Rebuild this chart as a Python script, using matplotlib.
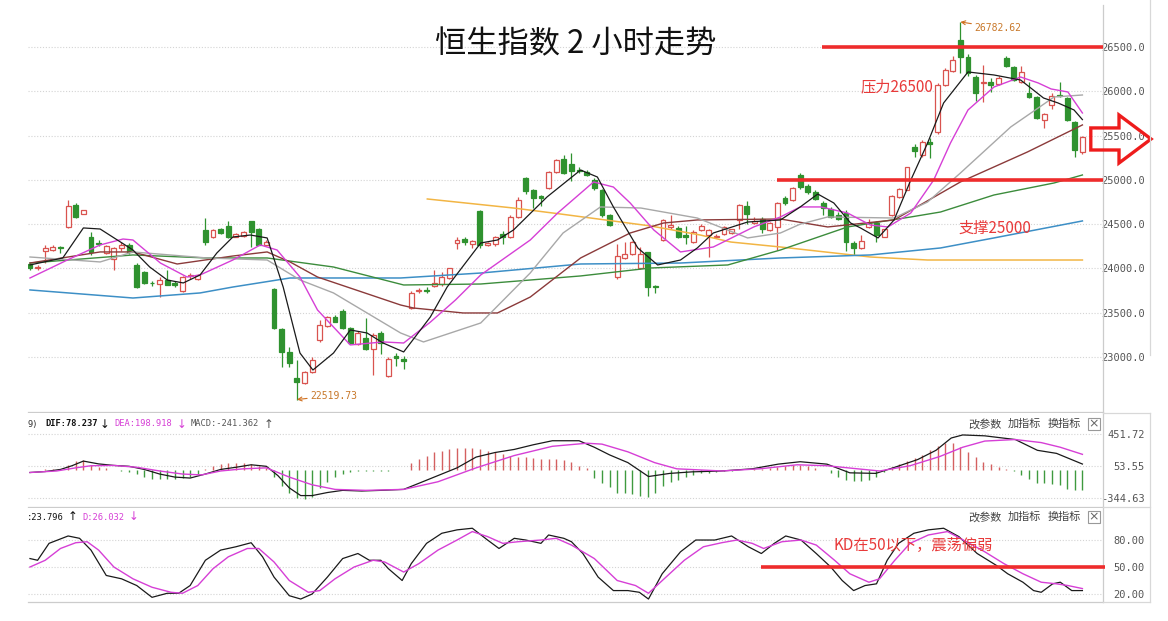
import numpy as np
import matplotlib
matplotlib.use("Agg")
import matplotlib.pyplot as plt
from matplotlib.patches import Polygon, Rectangle
from matplotlib.lines import Line2D

plt.rcParams['font.family'] = ['Noto Sans CJK SC', 'DejaVu Sans']

# ---- 2h candles (open, high, low, close) ----
opens = [24050, 24010, 24200, 24210, 24240, 24470, 24715, 24620, 24350, 24290,
         24170, 24105, 24230, 24260, 24040, 23960, 23840, 23820, 23870, 23830,
         23740, 23920, 23880, 24430, 24350, 24440, 24480, 24360, 24370, 24530,
         24440, 24270, 23770, 23315, 23060, 22760, 22710, 22830, 23190, 23350,
         23450, 23520, 23330, 23150, 23210, 23090, 23270, 22780, 23010, 22980,
         23550, 23745, 23760, 23800, 23820, 23890, 24290, 24330, 24280, 24650,
         24270, 24280, 24390, 24350, 24580, 25020, 24880, 24820, 24910, 25090,
         25230, 25180, 25110, 25090, 25000, 24890, 24600, 23900, 24120, 24160,
         24000, 24180, 23800, 24320, 24470, 24460, 24380, 24300, 24430, 24380,
         24360, 24390, 24400, 24550, 24700, 24510, 24560, 24430, 24470, 24800,
         24770, 25050, 24930, 24860, 24740, 24670, 24600, 24630, 24290, 24230,
         24470, 24510, 24360, 24600, 24810, 24890, 25370, 25280, 25430, 25540,
         26070, 26230, 26580, 26390, 26160, 26090, 26110, 26080, 26380, 26270,
         26100, 25980, 25930, 25680, 25850, 25960, 25920, 25650, 25310]
highs = [24060, 24040, 24270, 24270, 24250, 24770, 24740, 24665, 24410, 24320,
         24265, 24245, 24300, 24290, 24060, 23970, 23860, 23900, 23980, 23860,
         23910, 23950, 23940, 24570, 24440, 24460, 24540, 24400, 24420, 24540,
         24460, 24320, 23780, 23330, 23110, 22970, 22840, 23000, 23420, 23460,
         23470, 23540, 23340, 23290, 23440, 23270, 23290, 23000, 23050, 23010,
         23740, 23780, 23790, 23980, 23960, 24010, 24350, 24350, 24320, 24660,
         24300, 24370, 24420, 24600, 24810, 25030, 24900, 24830, 25100, 25240,
         25280, 25300, 25150, 25110, 25020, 24900, 24610, 24280, 24300, 24310,
         24240, 24190, 23810, 24560, 24600, 24480, 24480, 24430, 24500, 24450,
         24390, 24480, 24450, 24730, 24760, 24580, 24580, 24520, 24750, 24820,
         24920, 25080, 24950, 24880, 24760, 24690, 24640, 24660, 24310, 24380,
         24560, 24530, 24450, 24830, 24910, 25150, 25400, 25450, 25470, 26090,
         26260, 26400, 26782.62, 26420, 26180, 26300, 26150, 26170, 26400, 26290,
         26280, 26100, 25950, 25760, 25980, 26100, 25940, 25660, 25490]
lows = [23985, 23980, 24060, 24200, 24170, 24460, 24570, 24610, 24150, 24250,
        24165, 23985, 24200, 24160, 23780, 23820, 23800, 23680, 23810, 23790,
        23730, 23880, 23870, 24270, 24340, 24390, 24340, 24350, 24360, 24240,
        24260, 24260, 23320, 22890, 22890, 22519.73, 22700, 22820, 23170, 23340,
        23390, 23320, 23150, 23140, 23080, 22800, 23030, 22770, 22900, 22870,
        23540, 23720, 23720, 23790, 23800, 23880, 24220, 24270, 24230, 24230,
        24250, 24250, 24280, 24340, 24570, 24840, 24680, 24700, 24900, 25080,
        25070, 24990, 25080, 25040, 24890, 24580, 24480, 23880, 24110, 24150,
        23990, 23690, 23720, 24310, 24440, 24340, 24280, 24290, 24420, 24130,
        24340, 24380, 24390, 24440, 24500, 24500, 24400, 24420, 24210, 24720,
        24760, 24900, 24840, 24770, 24600, 24570, 24550, 24200, 24150, 24220,
        24460, 24300, 24350, 24590, 24800, 24880, 25260, 25260, 25250, 25520,
        26060, 26220, 26210, 26170, 25890, 25880, 25990, 26070, 26270, 26120,
        26090, 25920, 25690, 25590, 25800, 25930, 25670, 25260, 25290]
closes = [24000, 24020, 24230, 24245, 24230, 24700, 24580, 24655, 24180, 24280,
          24255, 24230, 24270, 24185, 23790, 23835, 23830, 23870, 23815, 23810,
          23900, 23930, 23925, 24300, 24430, 24400, 24350, 24385, 24410, 24410,
          24270, 24300, 23330, 23060, 22930, 22720, 22830, 22970, 23360, 23450,
          23400, 23330, 23160, 23270, 23090, 23250, 23160, 22980, 22990, 22960,
          23720, 23760, 23745, 23830, 23900, 24000, 24320, 24300, 24310, 24265,
          24290, 24360, 24350, 24580, 24770, 24870, 24800, 24800, 25090, 25220,
          25080, 25100, 25100, 25050, 24910, 24600, 24490, 24140, 24160, 24300,
          24160, 23790, 23790, 24550, 24490, 24360, 24360, 24410, 24480, 24430,
          24370, 24470, 24440, 24720, 24610, 24540, 24450, 24510, 24740, 24740,
          24910, 24920, 24860, 24780, 24680, 24580, 24560, 24300, 24230, 24310,
          24510, 24380, 24440, 24820, 24900, 25140, 25330, 25430, 25400, 26070,
          26240, 26350, 26390, 26210, 25980, 26110, 26070, 26150, 26280, 26130,
          26220, 25940, 25700, 25740, 25950, 25950, 25680, 25340, 25480]

# ---- moving averages (candle index, value) ----
ma5_idx = [0, 4.3, 7, 9.2, 13.5, 15.7, 18, 20.1, 22.3, 24.5, 26.6, 28.9, 31.1, 33.2,
           35.4, 37.1, 39.8, 42, 44.2, 46.3, 49, 52.5, 54.7, 59.1, 61.3, 63.4, 67.8,
           72.2, 74.4, 76.5, 79.7, 82.3, 85.3, 87.5, 89.6, 94.1, 98.4, 101, 103.3,
           105.4, 107.6, 108.9, 111.2, 113.3, 115.5, 117.7, 119.8, 123, 126.4, 129.9,
           132.9, 134.8, 136.9, 138]
ma5_val = [24039, 24118, 24457, 24445, 24208, 24016, 23869, 23836, 23926, 24174, 24355,
           24377, 24344, 23790, 23045, 22853, 23045, 23305, 23271, 23158, 23057, 23452,
           23790, 24287, 24321, 24434, 24807, 25111, 25032, 24694, 24231, 24039, 24095,
           24231, 24400, 24524, 24547, 24694, 24840, 24739, 24513, 24457, 24344, 24547,
           24998, 25416, 25868, 26218, 26184, 26127, 25924, 25868, 25789, 25680]
ma10_idx = [0, 4.9, 9.2, 12.2, 13.5, 17.1, 20.6, 22.3, 26.6, 30.2, 32.4, 35.4, 37.7, 42,
            46.3, 49, 52.5, 55.8, 59.1, 65.6, 69.2, 73.9, 76.5, 78.7, 81.8, 85.3, 89.6,
            94.9, 98.4, 101, 103.7, 107.2, 110.2, 112.5, 115.5, 118.5, 120.7, 123, 126.4,
            129.9, 132.2, 133.9, 136.1, 138]
ma10_val = [23892, 24095, 24265, 24332, 24321, 24061, 23903, 23926, 24095, 24265, 24208,
            23903, 23531, 23136, 23170, 23158, 23394, 23644, 23926, 24321, 24626, 24976,
            24919, 24739, 24434, 24186, 24242, 24468, 24581, 24694, 24694, 24626, 24490,
            24468, 24626, 24998, 25416, 25789, 26048, 26161, 26094, 26026, 25992, 25755]
ma20_idx = [0, 9.2, 13.5, 23.2, 31.1, 35.4, 39.8, 48.6, 51.6, 59.1, 65.6, 69.9, 74.8,
            80.1, 87.5, 94.1, 98.4, 101, 104.6, 113.3, 117.7, 122, 128.6, 134.3, 138]
ma20_val = [24129, 24073, 24186, 24118, 24095, 23870, 23723, 23271, 23170, 23384, 23949,
            24400, 24694, 24682, 24569, 24344, 24400, 24500, 24581, 24569, 24750, 25077,
            25597, 25936, 25958]
ma30_idx = [0, 9.2, 13.5, 19.3, 26.6, 31.1, 34.1, 37.7, 48.6, 50.3, 56.8, 61.3, 65.6,
            72.2, 78.7, 83.1, 87.5, 98.4, 104.6, 113.3, 122, 130.8, 138]
ma30_val = [24061, 24186, 24186, 24050, 24140, 24186, 24073, 23903, 23587, 23553, 23497,
            23497, 23677, 24118, 24400, 24513, 24547, 24558, 24468, 24547, 24976, 25315,
            25620]
ma60_idx = [0, 13.5, 23.2, 31.1, 39.8, 49, 59.1, 72.2, 81.4, 91.5, 98.4, 107.2, 115.5,
            119.4, 126.4, 134.3, 138]
ma60_val = [24061, 24152, 24118, 24118, 24016, 23813, 23824, 23915, 24005, 24039, 24208,
            24468, 24581, 24637, 24829, 24965, 25055]
ma120_idx = [0, 13.5, 22.3, 26.6, 34.1, 48.6, 59.1, 72.2, 85.3, 98.4, 110.2, 119.4,
             126.4, 138]
ma120_val = [23757, 23666, 23723, 23790, 23892, 23892, 23948, 24050, 24061, 24118, 24152,
             24231, 24344, 24536]
ma250_idx = [52.1, 63.4, 69.6, 81.4, 87.9, 91.9, 98.4, 110.2, 117.7, 138]
ma250_val = [24784, 24682, 24614, 24479, 24377, 24298, 24242, 24129, 24095, 24095]

# ---- MACD ----
macd_hist = [0, 10, 15, 20, 20, 69, 115, 126, 69, 38, 23, 5, -8, -19, -46, -84, -103,
             -111, -111, -103, -96, -77, -46, 11, 50, 80, 96, 88, 88, 80, 50, 31, -84,
             -199, -287, -341, -352, -326, -218, -142, -84, -46, -19, -10, -8, -5, -4,
             -3, -2, 3, 88, 146, 184, 222, 241, 260, 272, 280, 272, 260, 241, 222, 203,
             184, 172, 165, 153, 146, 146, 146, 126, 107, 50, 25, -96, -153, -211, -276,
             -287, -299, -314, -337, -276, -192, -146, -115, -77, -57, -38, -27, -15, -8,
             -3, 2, 8, 15, 19, 31, 46, 57, 65, 69, 57, 27, 3, -38, -84, -123, -134, -134,
             -123, -77, -15, 38, 77, 115, 153, 192, 249, 306, 345, 345, 287, 230, 161,
             107, 77, 46, 19, -5, -57, -107, -153, -161, -172, -184, -237, -249, -241.362]
dif_idx = [0, 2, 4, 5.5, 7, 9, 11, 13, 15, 17, 19, 21, 23, 25, 27, 29, 31, 32.5, 34,
           35.5, 37, 39, 41, 43.5, 46, 49, 51, 53.5, 56, 58.5, 61, 63.5, 66, 68.5, 72,
           74, 76, 78.4, 81.1, 83.9, 86.8, 90.7, 94.7, 98.1, 101, 104.5, 107.5, 110.9,
           113.4, 116.4, 118.8, 120.8, 122.3, 125.2, 129.2, 132.1, 134.6, 138]
dif_val = [-27, -15, 11, 57, 115, 80, 61, 50, 11, -46, -84, -96, -46, 11, 38, 69, 50,
           -65, -218, -314, -314, -276, -249, -257, -249, -237, -161, -65, 31, 165, 222,
           260, 318, 368, 368, 287, 192, 96, -77, -38, -19, -8, 19, 77, 107, 77, -31,
           -38, 38, 134, 249, 402, 440, 429, 383, 249, 211, 78.237]
dea_idx = [0, 3.5, 6, 8, 11, 14, 17, 20, 22.5, 25, 28, 31, 34, 37, 40, 44, 49, 53.5,
           58.5, 63.5, 68.5, 73, 75, 78.4, 81.9, 84.8, 90.7, 95.7, 100.6, 104.5, 108.5,
           111.4, 115.4, 119.3, 122.3, 125.2, 129.2, 132.6, 135.1, 138]
dea_val = [-27, -8, 31, 57, 61, 38, -8, -46, -57, -8, 19, 31, -84, -180, -237, -249,
           -237, -142, 31, 184, 299, 337, 326, 230, 96, 19, -8, 19, 69, 57, 19, -8, 57,
           172, 287, 364, 383, 345, 287, 198.918]

# ---- KD ----
k_idx = [0, 1, 2.5, 5, 6.5, 8, 10, 12, 14, 16, 18, 19.5, 21, 23, 25, 27, 29, 30.5, 32,
         34, 35.5, 37, 39, 41, 43, 44.5, 46, 47, 48.8, 50, 52, 54, 56, 58, 60, 61.5,
         63.5, 65, 67, 68, 70, 71, 72.5, 74.5, 76.5, 78.4, 79.9, 81.1, 82.9, 85.3, 87.3,
         89.8, 92, 94.2, 95.9, 97.6, 99.1, 101.1, 103.1, 105, 106.5, 108, 109.5, 111,
         112.4, 113.9, 115.9, 117.8, 119.8, 121.8, 124.2, 126.7, 128.2, 130.2, 131.6,
         132.6, 134.1, 135.1, 136.6, 138]
k_val = [59.4, 57.5, 76.3, 84.5, 81.9, 68.8, 40.6, 36.9, 29.4, 16.3, 20.8, 20.8, 29.4,
         57.5, 68.8, 72.5, 77.0, 61.3, 38.8, 18.1, 14.4, 20.0, 38.8, 59.4, 65.0, 57.5,
         57.5, 48.1, 35.0, 53.8, 76.3, 87.5, 91.3, 93.1, 80.0, 70.6, 81.9, 80.0, 76.3,
         85.6, 81.9, 78.1, 65.0, 38.8, 23.8, 23.8, 21.9, 14.4, 42.5, 66.9, 80.0, 80.0,
         84.5, 72.5, 65.0, 76.3, 84.5, 80.0, 65.0, 50.0, 35.0, 23.8, 29.4, 31.3, 57.5,
         76.3, 87.5, 91.3, 93.1, 83.8, 65.0, 51.9, 42.5, 33.1, 23.8, 21.9, 31.3, 33.1,
         23.8, 23.796]
d_idx = [0, 2, 4, 6, 7.5, 9, 11, 13.5, 16, 18.5, 20, 22, 24, 26, 28.5, 30, 32, 34, 36.5,
         38, 40, 42.5, 45, 46.5, 49, 51, 53.5, 56, 58, 60, 62, 64, 67, 69, 71, 74, 77,
         79.4, 81.1, 83.4, 85.8, 88.3, 90.7, 92.7, 94.7, 96.2, 98.6, 101.1, 103.1, 105.5,
         107.5, 110, 111.4, 113.4, 115.4, 117.8, 120.3, 122.8, 125.2, 127.7, 130.2, 132.6,
         134.6, 136.1, 138]
d_val = [50, 57.5, 70.6, 77, 78.1, 68.8, 50, 36.9, 27.5, 21.9, 20.8, 29.4, 48.1, 61.3,
         70.6, 70.6, 55.6, 35, 21.9, 23.8, 36.9, 50, 57.5, 55.6, 44.4, 53.8, 68.8, 80,
         89.4, 83.8, 76.3, 78.1, 80, 81.9, 74.4, 59.4, 35, 29.4, 20.8, 38.8, 57.5, 72.5,
         77, 80, 76.3, 70.6, 78.1, 80, 74.4, 57.5, 42.5, 33.1, 36.9, 57.5, 76.3, 85.6,
         89.4, 78.1, 66.9, 53.8, 42.5, 33.1, 31.3, 29.4, 26.032]

price_ticks = [23000, 23500, 24000, 24500, 25000, 25500, 26000, 26500]
macd_ticks = [451.72, 53.55, -344.63]
kd_ticks = [80, 50, 20]
resistance = 26500
support = 25000
kd_level = 50

UP = '#d9534f'
DOWN = '#2f922f'
MAGENTA = '#d63fd6'
GRID = '#d4d4d4'
EDGE = '#cccccc'
MONO = 'DejaVu Sans Mono'
CJK = ['Noto Sans CJK SC', 'DejaVu Sans']

W, H = 1168, 621
fig = plt.figure(figsize=(W / 100, H / 100), dpi=100)


def box(top, bottom, left=28, right=1103):
    return [left / W, 1 - bottom / H, (right - left) / W, (bottom - top) / H]


def fpos(x, y):
    return x / W, 1 - y / H


ax = fig.add_axes(box(5, 412))
ax_m = fig.add_axes(box(413, 507))
ax_k = fig.add_axes(box(508, 602))

for a in (ax, ax_m, ax_k):
    a.set_xlim(-0.26, 140.7)
    a.set_xticks([])
    for s in ('top', 'left'):
        a.spines[s].set_visible(False)
    for s in ('right', 'bottom'):
        a.spines[s].set_color(EDGE)
        a.spines[s].set_linewidth(0.9)
    a.yaxis.tick_right()
    a.tick_params(axis='y', length=0, pad=30, labelsize=7.5, labelcolor='#555555')
    a.grid(axis='y', color=GRID, linestyle=(0, (1, 1.6)), linewidth=0.8)
    a.set_axisbelow(True)

# ---- candles ----
o = np.array(opens)
h = np.array(highs)
l = np.array(lows)
c = np.array(closes)
idx = np.arange(len(c))
up = c >= o
cols = np.where(up, UP, DOWN)
ax.vlines(idx, l, h, colors=cols, linewidth=0.9, zorder=3)
ax.bar(idx, np.abs(c - o), bottom=np.minimum(o, c), width=0.64,
       color=np.where(up, 'white', DOWN), edgecolor=cols, linewidth=0.9, zorder=4)

ax.plot(ma250_idx, ma250_val, color='#f2b544', lw=1.1, zorder=5)
ax.plot(ma120_idx, ma120_val, color='#3d8fc6', lw=1.1, zorder=5)
ax.plot(ma60_idx, ma60_val, color='#3c8c3c', lw=1.0, zorder=5)
ax.plot(ma30_idx, ma30_val, color='#8b3a3a', lw=1.0, zorder=5)
ax.plot(ma20_idx, ma20_val, color='#a8a8a8', lw=1.0, zorder=5)
ax.plot(ma10_idx, ma10_val, color=MAGENTA, lw=1.0, zorder=5)
ax.plot(ma5_idx, ma5_val, color='#1a1a1a', lw=0.9, zorder=5)

ax.set_ylim(22379, 26974)
ax.set_yticks(price_ticks)
ax.set_yticklabels([f'{v:.1f}' for v in price_ticks], family=MONO, ha='right')

# resistance / support
ax.hlines(resistance, 103.9, 140.7, color='#ee2c2c', lw=2.6, zorder=6)
ax.hlines(support, 97.9, 140.7, color='#ee2c2c', lw=2.6, zorder=6)
ax.text(108.9, 26048, f'压力{resistance}', color='#e83a3a', fontsize=11,
        family=CJK, va='center', ha='left', zorder=7)
ax.text(121.7, 24457, f'支撑{support}', color='#e83a3a', fontsize=11,
        family=CJK, va='center', ha='left', zorder=7)

# high / low marks
imax = int(np.argmax(h))
imin = int(np.argmin(l))
ax.annotate(f'{h[imax]:.2f}', xy=(imax, h[imax]), xytext=(imax + 1.8, h[imax] - 65),
            color='#c8782a', fontsize=7, family=MONO, va='center', ha='left',
            arrowprops=dict(arrowstyle='->', color='#d07020', lw=0.8,
                            shrinkA=0, shrinkB=0), zorder=7)
ax.annotate(f'{l[imin]:.2f}', xy=(imin, l[imin]), xytext=(imin + 1.7, l[imin] + 45),
            color='#c8782a', fontsize=7, family=MONO, va='center', ha='left',
            arrowprops=dict(arrowstyle='->', color='#d07020', lw=0.8,
                            shrinkA=0, shrinkB=0), zorder=7)

# hollow red arrow on the right
arrow = Polygon([(139.1, 25586), (142.8, 25586), (142.8, 25732), (147.0, 25461),
                 (142.8, 25190), (142.8, 25337), (139.1, 25337)], closed=True,
                facecolor='none', edgecolor='#ee1c1c', lw=2.4, clip_on=False, zorder=8,
                joinstyle='miter')
ax.add_patch(arrow)

# ---- MACD panel ----
hist = np.array(macd_hist)
hidx = np.arange(len(hist))
ax_m.vlines(hidx, 0, hist, colors=np.where(hist >= 0, '#d46060', '#3f9a3f'), lw=1.0)
ax_m.plot(dif_idx, dif_val, color='#1a1a1a', lw=0.9)
ax_m.plot(dea_idx, dea_val, color=MAGENTA, lw=1.0)
ax_m.set_ylim(-456, 713)
ax_m.set_yticks(macd_ticks)
ax_m.set_yticklabels([f'{v:.2f}' for v in macd_ticks], family=MONO, ha='right')

# ---- KD panel ----
ax_k.plot(k_idx, k_val, color='#1a1a1a', lw=0.9)
ax_k.plot(d_idx, d_val, color=MAGENTA, lw=1.0)
ax_k.set_ylim(11.1, 115.6)
ax_k.set_yticks(kd_ticks)
ax_k.set_yticklabels([f'{v:.2f}' for v in kd_ticks], family=MONO, ha='right')
ax_k.hlines(kd_level, 95.8, 141.0, color='#ee2c2c', lw=2.6, clip_on=False, zorder=6)
ax_k.text(105.4, 74.4, f'KD在{kd_level}以下，震荡偏弱', color='#e83a3a', fontsize=11,
          family=CJK, va='center', ha='left', zorder=7)

# ---- headers ----
def header(x, y, s, color, arrow_x=None, arrow='', bold=False):
    fig.text(*fpos(x, y), s, fontsize=6.3, family=MONO, color=color, va='center',
             fontweight='bold' if bold else 'normal')
    if arrow:
        fig.text(*fpos(arrow_x, y), arrow, fontsize=8.5, family='DejaVu Sans',
                 color=color, va='center', ha='center')


hy = 424
header(27, hy, '9)', '#333333')
header(45, hy, f'DIF:{dif_val[-1]:.3f}', '#111111', 105, '↓', bold=True)
header(114, hy, f'DEA:{dea_val[-1]:.3f}', MAGENTA, 182, '↓')
header(191, hy, f'MACD:{macd_hist[-1]:.3f}', '#555555', 269, '↑')
ky = 517
header(27, ky, f':{k_val[-1]:.3f}', '#111111', 73, '↑')
header(82, ky, f'D:{d_val[-1]:.3f}', MAGENTA, 134, '↓')

for yy in (hy, ky):
    for xx, t in ((968, '改参数'), (1008, '加指标'), (1048, '换指标')):
        fig.text(*fpos(xx, yy), t, fontsize=8, family=CJK, color='#444444', va='center')
    bx, by = fpos(1088, yy + 6)
    fig.add_artist(Rectangle((bx, by), 12 / W, 12 / H, transform=fig.transFigure,
                             facecolor='white', edgecolor='#999999', lw=0.8))
    fig.text(*fpos(1094, yy), '×', fontsize=9, color='#666666', ha='center',
             va='center', family='DejaVu Sans')

# frame bits on the right
fig.add_artist(Line2D([1150 / W, 1150 / W], [1 - 0 / H, 1 - 355 / H],
                      transform=fig.transFigure, color='#d8d8d8', lw=0.9))
fig.add_artist(Line2D([1150 / W, 1150 / W], [1 - 413 / H, 1 - 602 / H],
                      transform=fig.transFigure, color='#d8d8d8', lw=0.9))
for yy in (413, 507, 602):
    fig.add_artist(Line2D([1103 / W, 1150 / W], [1 - yy / H, 1 - yy / H],
                          transform=fig.transFigure, color='#d8d8d8', lw=0.9))

# title
fig.text(*fpos(576, 44), '恒生指数 2 小时走势', fontsize=22.5, family=CJK,
         color='#111111', ha='center', va='center')

fig.savefig('out.png', dpi=100, facecolor='white')
